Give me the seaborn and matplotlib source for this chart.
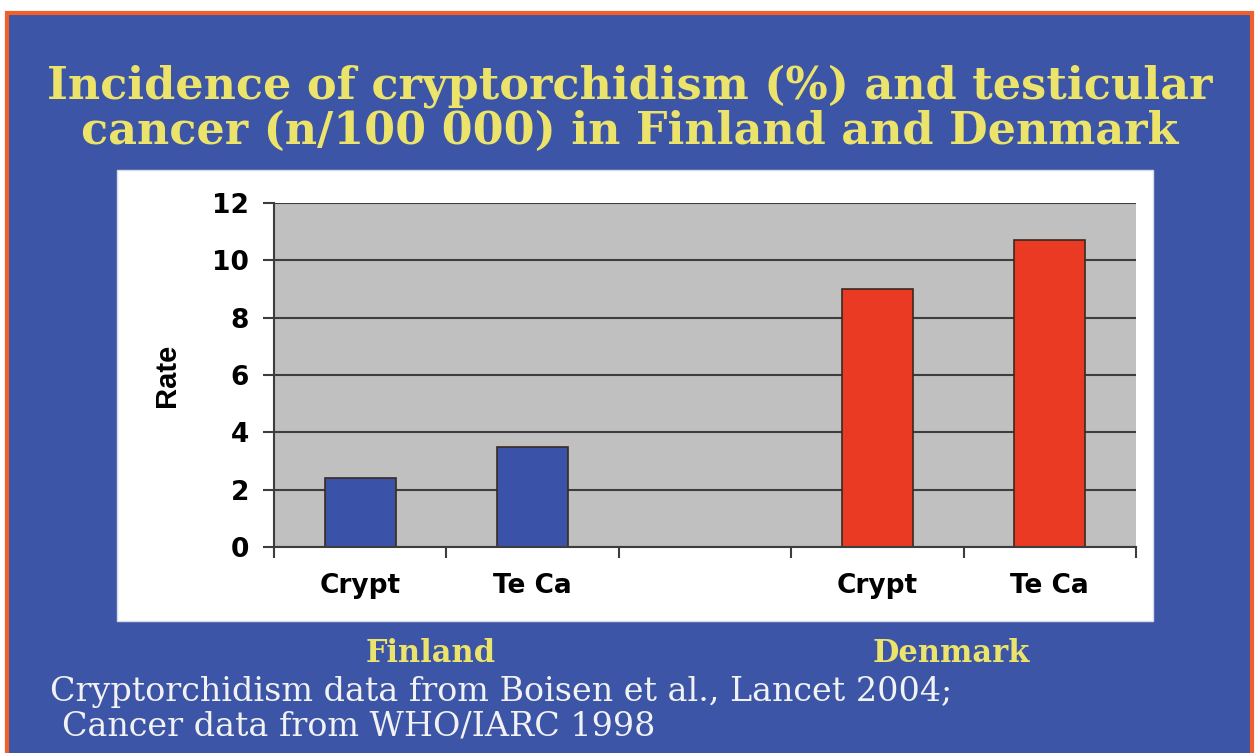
import pandas as pd
import matplotlib.pyplot as plt
import matplotlib.patches as mpatches
import seaborn as sns

# data
slots = ["F_crypt", "F_teca", "gap", "D_crypt", "D_teca"]
slot_labels = ["Crypt", "Te Ca", "", "Crypt", "Te Ca"]
bar_slots = ["F_crypt", "F_teca", "D_crypt", "D_teca"]
countries = ["Finland", "Finland", "Denmark", "Denmark"]
rates = [2.4, 3.5, 9.0, 10.7]
y_ticks = [0, 2, 4, 6, 8, 10, 12]

df = pd.DataFrame({"slot": bar_slots, "country": countries, "rate": rates})

W, H = 1256, 753
BLUE_BG = "#3c55a6"
ORANGE = "#f0602a"
YELLOW = "#ece36a"
SERIF = ["DejaVu Serif"]

sns.set_theme(style="white")
plt.rcParams["font.family"] = ["DejaVu Sans"]

fig = plt.figure(figsize=(W / 100, H / 100), dpi=100)
fig.patch.set_facecolor("white")

def fx(px):
    return px / W

def fy(py):
    return 1 - py / H

# slide background: orange frame with blue fill
fig.patches.append(mpatches.Rectangle((fx(7), fy(760)), fx(1245), fy(13) - fy(760),
                                      transform=fig.transFigure, facecolor=BLUE_BG,
                                      edgecolor=ORANGE, linewidth=3, zorder=0))
# white chart panel
fig.patches.append(mpatches.Rectangle((fx(117), fy(621)), fx(1036), fy(170) - fy(621),
                                      transform=fig.transFigure, facecolor="white",
                                      edgecolor="#d8dbe8", linewidth=1, zorder=1))

ax = fig.add_axes([fx(274), fy(547), fx(1136) - fx(274), fy(203) - fy(547)])
ax.set_zorder(2)
sns.barplot(data=df, x="slot", y="rate", hue="country", order=slots,
            palette={"Finland": "#3a53a8", "Denmark": "#ea3a24"}, saturation=1,
            dodge=False, width=0.41, edgecolor="#3a2a20", linewidth=1.2,
            legend=False, ax=ax)

ax.set_facecolor("#c0c0c0")
ax.set_xlim(-0.5, 4.5)
ax.set_ylim(0, 12)
ax.set_yticks(y_ticks)
ax.set_yticklabels([str(t) for t in y_ticks], fontsize=19, fontweight="bold", color="black")
ax.yaxis.grid(True, color="#3d3d3d", linewidth=1.5)
ax.set_axisbelow(True)

ax.set_xticks(range(len(slots)))
ax.set_xticklabels(slot_labels, fontsize=19, fontweight="bold", color="black")
ax.set_xticks([i - 0.5 for i in range(len(slots) + 1)], minor=True)
ax.tick_params(axis="x", which="major", length=0, pad=19, bottom=True)
ax.tick_params(axis="x", which="minor", length=8, width=1.5, color="#3d3d3d",
               direction="out", bottom=True)
ax.tick_params(axis="y", length=8, width=1.5, color="#3d3d3d", left=True, pad=10)

for side in ["top", "right"]:
    ax.spines[side].set_visible(False)
for side in ["left", "bottom"]:
    ax.spines[side].set_color("#3d3d3d")
    ax.spines[side].set_linewidth(1.5)

ax.set_xlabel("")
ax.set_ylabel("Rate", fontsize=21, fontweight="bold", color="black",
              family=["Liberation Sans", "DejaVu Sans"])
ax.yaxis.set_label_coords((181 - 274) / (1136 - 274), 0.5)

# title and notes
title_kw = dict(ha="center", va="center", color=YELLOW, fontsize=32, fontweight="bold",
                family=SERIF)
fig.text(fx(630), fy(86), "Incidence of cryptorchidism (%) and testicular", **title_kw)
fig.text(fx(630), fy(131), "cancer (n/100 000) in Finland and Denmark", **title_kw)

lab_kw = dict(ha="center", va="center", color=YELLOW, fontsize=22, fontweight="bold",
              family=SERIF)
fig.text(fx(431), fy(654), "Finland", **lab_kw)
fig.text(fx(951), fy(654), "Denmark", **lab_kw)

note_kw = dict(ha="left", va="center", color="#f2f2f2", fontsize=24, family=SERIF)
fig.text(fx(50), fy(692), "Cryptorchidism data from Boisen et al., Lancet 2004;", **note_kw)
fig.text(fx(62), fy(727), "Cancer data from WHO/IARC 1998", **note_kw)

fig.savefig("out.png", dpi=100, facecolor=fig.get_facecolor())
